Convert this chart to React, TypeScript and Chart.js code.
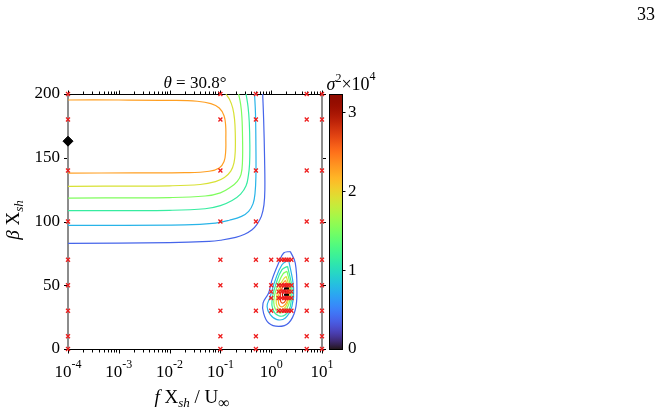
import React, { useEffect, useRef } from "react";
import { Chart, registerables } from "chart.js";
Chart.register(...registerables);

// ---------- data ----------
const sparseX = [1e-4, 0.1, 0.5, 5, 10];
const sparseY = [0, 10, 30, 50, 70, 100, 140, 180, 200];
const denseX = [1, 1.4, 1.6, 1.8, 2, 2.2, 2.5];
const denseY = [30, 40, 45, 50, 70];
const optimumMain = [{ x: 1e-4, y: 163 }];
const optimumIsland = [{ x: 2, y: 47.5 }, { x: 2, y: 42.5 }];
const yTicks = [0, 50, 100, 150, 200];
const xDecades = [-4, -3, -2, -1, 0, 1];
const cbMax = 3.23;
const cbTicks = [0, 1, 2, 3];
const titleText = "30.8°";

type P = [number, number];
// large contours (open, ending on the left edge)
const top24: P[] = [[1e-4,195.3],[0.001,195.3],[0.01,195.0],[0.035,194.3],[0.065,192.5],[0.095,189],[0.118,183],[0.127,175],[0.128,165],[0.127,155],[0.118,147],[0.095,142],[0.06,139.4],[0.02,138.3],[0.002,138.1],[1e-4,138]];
const top20: P[] = [[0.128,200],[0.15,196],[0.175,189],[0.19,180],[0.196,170],[0.196,155],[0.185,146],[0.16,139.5],[0.12,134.5],[0.08,131.3],[0.04,129],[0.01,128],[1e-4,127.6]];
const top16: P[] = [[0.228,200],[0.25,192],[0.265,182],[0.273,165],[0.272,147],[0.255,137],[0.215,131.5],[0.16,127],[0.1,122.5],[0.05,120],[0.01,118.8],[1e-4,118.4]];
const top12: P[] = [[0.32,200],[0.35,190],[0.37,178],[0.38,160],[0.375,145],[0.355,136],[0.32,128],[0.25,121.5],[0.17,116.5],[0.1,112.5],[0.05,110],[0.01,108.8],[1e-4,108.5]];
const top08: P[] = [[0.47,200],[0.49,185],[0.5,160],[0.5,135],[0.48,122],[0.44,114],[0.36,108],[0.26,104],[0.15,101],[0.08,98.8],[0.02,97.3],[1e-4,97]];
const top04: P[] = [[0.68,200],[0.71,180],[0.74,150],[0.75,125],[0.72,113],[0.64,104],[0.52,97.5],[0.42,93.5],[0.3,90],[0.2,87.5],[0.1,85.3],[0.06,84.4],[0.01,83.4],[1e-4,82.8]];
// island contours (closed)
const isl04: P[] = [[2.38,76.5],[2.98,67.4],[3.21,46.5],[2.98,30.8],[2.2,20.4],[1.4,17.7],[0.89,20.4],[0.707,28.2],[0.69,36],[0.89,43.9],[1.04,54.4],[1.4,67.4],[1.76,75.3],[2.38,76.5]];
const isl08: P[] = [[2.2,70],[2.76,47.8],[2.56,33.4],[1.9,24.3],[1.3,23],[0.96,26.9],[0.83,33.4],[0.96,41.3],[1.21,54.4],[1.63,66.1],[2.2,70]];
const isl12: P[] = [[2.1,64.8],[2.56,47.8],[2.38,33.4],[1.9,26.9],[1.4,26.1],[1.08,30.8],[1.04,38.7],[1.26,51.8],[1.63,62.2],[2.1,64.8]];
const isl16: P[] = [[2.05,60.9],[2.45,46],[2.2,34.7],[1.81,29.5],[1.4,28.7],[1.15,33.4],[1.15,41.3],[1.4,51.8],[1.71,59],[2.05,60.9]];
const isl20: P[] = [[1.98,57],[2.3,46.5],[2.1,36],[1.75,31.4],[1.44,31.4],[1.26,35.5],[1.3,42.6],[1.51,50.4],[1.75,54.9],[1.98,57]];
const isl24: P[] = [[1.92,53.8],[2.2,45.2],[2.05,37.3],[1.71,33.4],[1.46,34],[1.38,38.7],[1.46,45.2],[1.66,51],[1.92,53.8]];
const isl28: P[] = [[1.9,50.4],[2.1,43.9],[1.92,38.1],[1.66,36],[1.51,38.7],[1.56,45.2],[1.71,49.1],[1.9,50.4]];
const isl32: P[] = [[1.85,47],[1.98,43],[1.85,39.5],[1.7,40.5],[1.68,44.5],[1.85,47]];

const contours: { level: number; pts: P[] }[] = [
  { level: 0.38, pts: top04 }, { level: 0.76, pts: top08 }, { level: 1.14, pts: top12 },
  { level: 1.52, pts: top16 }, { level: 1.9, pts: top20 }, { level: 2.28, pts: top24 },
  { level: 0.38, pts: isl04 }, { level: 0.76, pts: isl08 }, { level: 1.14, pts: isl12 },
  { level: 1.52, pts: isl16 }, { level: 1.9, pts: isl20 }, { level: 2.28, pts: isl24 },
  { level: 2.66, pts: isl28 }, { level: 3.04, pts: isl32 },
];

// ---------- styling helpers ----------
const SERIF = '"Liberation Serif", "Times New Roman", serif';
function clamp255(v: number) { return Math.max(0, Math.min(255, Math.round(v * 255))); }
function turbo(t: number) {
  t = Math.min(1, Math.max(0, t));
  const r = 0.13572138 + t * (4.6153926 + t * (-42.66032258 + t * (132.13108234 + t * (-152.94239396 + t * 59.28637943))));
  const g = 0.09140261 + t * (2.19418839 + t * (4.84296658 + t * (-14.18503333 + t * (4.27729857 + t * 2.82956604))));
  const b = 0.1066733 + t * (12.64194608 + t * (-60.58204836 + t * (110.36276771 + t * (-89.90310912 + t * 27.34824973))));
  return `rgb(${clamp255(r)},${clamp255(g)},${clamp255(b)})`;
}

type Part = { text: string; font: string; dy?: number; dx?: number };
function drawParts(ctx: CanvasRenderingContext2D, parts: Part[], x: number, y: number, align: "left" | "center" | "right") {
  ctx.textAlign = "left";
  ctx.textBaseline = "alphabetic";
  const widths = parts.map((p) => { ctx.font = p.font; return ctx.measureText(p.text).width + (p.dx || 0); });
  const total = widths.reduce((a, b) => a + b, 0);
  let cx = align === "center" ? x - total / 2 : align === "right" ? x - total : x;
  parts.forEach((p, i) => {
    ctx.font = p.font;
    ctx.fillText(p.text, cx + (p.dx || 0), y + (p.dy || 0));
    cx += widths[i];
  });
}

const decor = {
  id: "decor",
  beforeDatasetsDraw(chart: any) {
    const { ctx, chartArea: a, scales } = chart;
    const xs = scales.x, ys = scales.y;
    ctx.save();
    ctx.strokeStyle = "#000";
    ctx.lineWidth = 1;
    ctx.beginPath();
    ctx.moveTo(a.left, a.top + 0.5); ctx.lineTo(a.right, a.top + 0.5);
    ctx.moveTo(a.left, a.bottom + 0.5); ctx.lineTo(a.right, a.bottom + 0.5);
    for (const d of xDecades) {
      for (let k = 1; k <= 9; k++) {
        const v = k * Math.pow(10, d);
        if (v > 10.0001) break;
        const px = Math.round(xs.getPixelForValue(v)) + 0.5;
        const len = k === 1 ? 3.5 : 2.5;
        ctx.moveTo(px, a.top); ctx.lineTo(px, a.top - len);
        ctx.moveTo(px, a.bottom + 1); ctx.lineTo(px, a.bottom + 1 + len);
      }
    }
    for (const v of yTicks) {
      const py = Math.round(ys.getPixelForValue(v)) + 0.5;
      ctx.moveTo(a.left - 1, py); ctx.lineTo(a.left - 4, py);
      ctx.moveTo(a.right + 1, py); ctx.lineTo(a.right + 4, py);
    }
    ctx.stroke();
    ctx.strokeStyle = "#8c8c8c";
    ctx.lineWidth = 2;
    ctx.beginPath();
    ctx.moveTo(a.left, a.top); ctx.lineTo(a.left, a.bottom + 1);
    ctx.moveTo(a.right, a.top); ctx.lineTo(a.right, a.bottom + 1);
    ctx.stroke();
    ctx.restore();
  },
  afterDraw(chart: any) {
    const { ctx, chartArea: a, scales } = chart;
    const xs = scales.x, cb = scales.cb;
    ctx.save();
    ctx.fillStyle = "#000";
    for (const d of xDecades) {
      const px = xs.getPixelForValue(Math.pow(10, d));
      drawParts(ctx, [
        { text: "10", font: `17px ${SERIF}` },
        { text: String(d), font: `12px ${SERIF}`, dy: -9 },
      ], px, 377, "center");
    }
    drawParts(ctx, [
      { text: "f", font: `italic 19px ${SERIF}` },
      { text: " X", font: `19px ${SERIF}` },
      { text: "sh", font: `italic 13px ${SERIF}`, dy: 4 },
      { text: " / U", font: `19px ${SERIF}` },
      { text: "\u221E", font: `16px ${SERIF}`, dy: 5 },
    ], 192, 403, "center");
    ctx.save();
    ctx.translate(19, 220);
    ctx.rotate(-Math.PI / 2);
    drawParts(ctx, [
      { text: "\u03B2", font: `italic 19px ${SERIF}` },
      { text: " X", font: `19px ${SERIF}` },
      { text: "sh", font: `italic 13px ${SERIF}`, dy: 4 },
    ], 0, 0, "center");
    ctx.restore();
    drawParts(ctx, [
      { text: "\u03B8", font: `italic 17px ${SERIF}` },
      { text: " = " + titleText, font: `17px ${SERIF}` },
    ], 195, 88, "center");
    // colorbar
    const top = cb.getPixelForValue(cbMax);
    const bot = cb.getPixelForValue(0);
    const x0 = 329.5, w = 13;
    const grad = ctx.createLinearGradient(0, bot, 0, top);
    for (let i = 0; i <= 64; i++) grad.addColorStop(i / 64, turbo(i / 64));
    ctx.fillStyle = grad;
    ctx.fillRect(x0, top, w, bot - top);
    ctx.strokeStyle = "#000";
    ctx.lineWidth = 1;
    ctx.strokeRect(x0, Math.round(top) + 0.5, w, Math.round(bot - top));
    ctx.beginPath();
    for (const v of cbTicks) {
      if (v === 0) continue;
      const py = Math.round(cb.getPixelForValue(v)) + 0.5;
      ctx.moveTo(x0 + w, py); ctx.lineTo(x0 + w + 3, py);
    }
    ctx.stroke();
    ctx.fillStyle = "#000";
    drawParts(ctx, [
      { text: "\u03C3", font: `italic 18px ${SERIF}` },
      { text: "2", font: `12px ${SERIF}`, dy: -8 },
      { text: "\u00D710", font: `18px ${SERIF}` },
      { text: "4", font: `12px ${SERIF}`, dy: -10 },
    ], 326.5, 90, "left");
    drawParts(ctx, [{ text: "33", font: `18px ${SERIF}` }], 655, 20, "right");
    ctx.restore();
  },
};

export default function App() {
  const ref = useRef<HTMLCanvasElement | null>(null);
  useEffect(() => {
    if (!ref.current) return;
    const sparsePts: { x: number; y: number }[] = [];
    for (const x of sparseX) for (const y of sparseY) sparsePts.push({ x, y });
    const densePts: { x: number; y: number }[] = [];
    for (const x of denseX) for (const y of denseY) densePts.push({ x, y });

    const datasets: any[] = [
      {
        data: optimumMain, pointStyle: "rectRot", pointRadius: 5, backgroundColor: "#000",
        borderColor: "#000", borderWidth: 1, showLine: false, clip: false, order: 0,
      },
      {
        data: optimumIsland, pointStyle: "line", pointRadius: 2.5, borderColor: "#000",
        borderWidth: 2, showLine: false, clip: false, order: 1,
      },
      {
        data: [...sparsePts, ...densePts], pointStyle: "crossRot", pointRadius: 2.8,
        borderColor: "rgb(238,30,30)", borderWidth: 1.3, showLine: false, clip: false, order: 2,
      },
      ...contours.map((c) => ({
        data: c.pts.map(([x, y]) => ({ x, y })),
        showLine: true, pointRadius: 0, borderColor: turbo(c.level / cbMax),
        borderWidth: 1.2, tension: 0.4, fill: false, order: 10,
      })),
    ];

    const chart = new Chart(ref.current, {
      type: "scatter",
      data: { datasets },
      plugins: [decor],
      options: {
        animation: false,
        responsive: false,
        devicePixelRatio: 1,
        events: [],
        layout: { padding: { left: 0, right: 0, top: 94, bottom: 0 } },
        plugins: { legend: { display: false }, tooltip: { enabled: false }, title: { display: false } },
        scales: {
          x: {
            type: "logarithmic", min: 1e-4, max: 10,
            grid: { display: false, drawTicks: false }, border: { display: false },
            ticks: { display: false },
            afterFit: (s: any) => { s.height = 67; },
          },
          y: {
            type: "linear", position: "left", min: 0, max: 200,
            grid: { display: false, drawTicks: false }, border: { display: false },
            ticks: { color: "#000", padding: 8, font: { family: SERIF, size: 17 } },
            afterBuildTicks: (s: any) => { s.ticks = yTicks.map((v) => ({ value: v })); },
            afterFit: (s: any) => { s.width = 68; },
          },
          cb: {
            type: "linear", position: "right", min: 0, max: cbMax,
            grid: { display: false, drawTicks: false }, border: { display: false },
            ticks: { color: "#000", padding: 26, font: { family: SERIF, size: 17 } },
            afterBuildTicks: (s: any) => { s.ticks = cbTicks.map((v) => ({ value: v })); },
            afterFit: (s: any) => { s.width = 342; },
          },
        },
      } as any,
    });
    return () => chart.destroy();
  }, []);
  return (
    <canvas
      ref={ref}
      width={664}
      height={416}
      style={{ position: "fixed", left: 0, top: 0, width: 664, height: 416, background: "#fff" }}
    />
  );
}
